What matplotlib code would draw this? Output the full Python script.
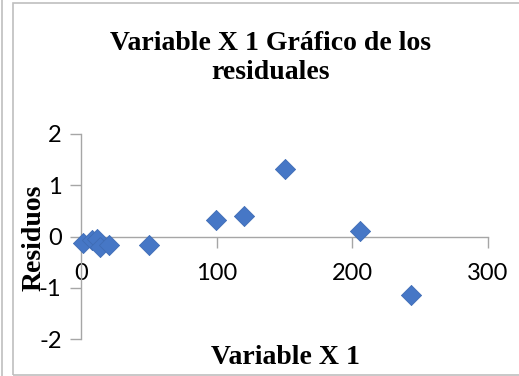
import matplotlib
matplotlib.use("Agg")
import matplotlib.pyplot as plt
from matplotlib.patches import Rectangle

# residuals
x_vals = [1.7, 7.9, 11.6, 14.0, 20.9, 50.0, 99.5, 120.5, 150.0, 205.5, 243.5]
residuals = [-0.13, -0.07, -0.05, -0.20, -0.17, -0.17, 0.32, 0.40, 1.31, 0.10, -1.15]

x_ticks = [0, 100, 200, 300]
y_ticks = [-2, -1, 0, 1, 2]

title = "Variable X 1 Gráfico de los\nresiduales"
x_label = "Variable X 1"
y_label = "Residuos"

plt.rcParams["axes.unicode_minus"] = False
serif = ["Liberation Serif", "DejaVu Serif"]
sans = ["Lato", "DejaVu Sans"]
gray = "#a6a6a6"

fig = plt.figure(figsize=(5.19, 3.76), dpi=100)
fig.patch.set_facecolor("white")

# chart frame like the Excel chart area
fig.patches.append(Rectangle((13 / 519, 1 / 376), 1.2, 372 / 376, transform=fig.transFigure,
                             fill=False, edgecolor="#bfbfbf", linewidth=1.2))
fig.add_artist(plt.Line2D([2 / 519, 2 / 519], [0, 1], transform=fig.transFigure,
                          color="#bfbfbf", linewidth=1.2))

ax = fig.add_axes([81 / 519, 1 - 339 / 376, 407 / 519, 205 / 376])
ax.scatter(x_vals, residuals, marker="D", s=105, color="#4677c6",
           edgecolor="#3f6db5", linewidth=0.6, zorder=3, clip_on=False)

ax.set_xlim(0, 300)
ax.set_ylim(-2, 2)
ax.set_xticks(x_ticks)
ax.set_yticks(y_ticks)

for side in ["top", "right"]:
    ax.spines[side].set_visible(False)
ax.spines["bottom"].set_position(("data", 0))
for side in ["left", "bottom"]:
    ax.spines[side].set_color(gray)
    ax.spines[side].set_linewidth(1.0)

ax.tick_params(axis="x", direction="out", length=8, width=1.0, color=gray, pad=11)
ax.tick_params(axis="y", direction="out", length=8, width=1.0, color=gray, pad=6)
for lbl in ax.get_xticklabels() + ax.get_yticklabels():
    lbl.set_family(sans)
    lbl.set_fontsize(17)

fig.text(271 / 519, 1 - 58 / 376, title, ha="center", va="center",
         family=serif, fontweight="bold", fontsize=20, linespacing=1.25)
fig.text(285 / 519, 1 - 357 / 376, x_label, ha="center", va="center",
         family=serif, fontweight="bold", fontsize=20)
fig.text(34 / 519, 1 - 238 / 376, y_label, ha="center", va="center", rotation=90,
         family=serif, fontweight="bold", fontsize=20)

fig.savefig("out.png", dpi=100)
